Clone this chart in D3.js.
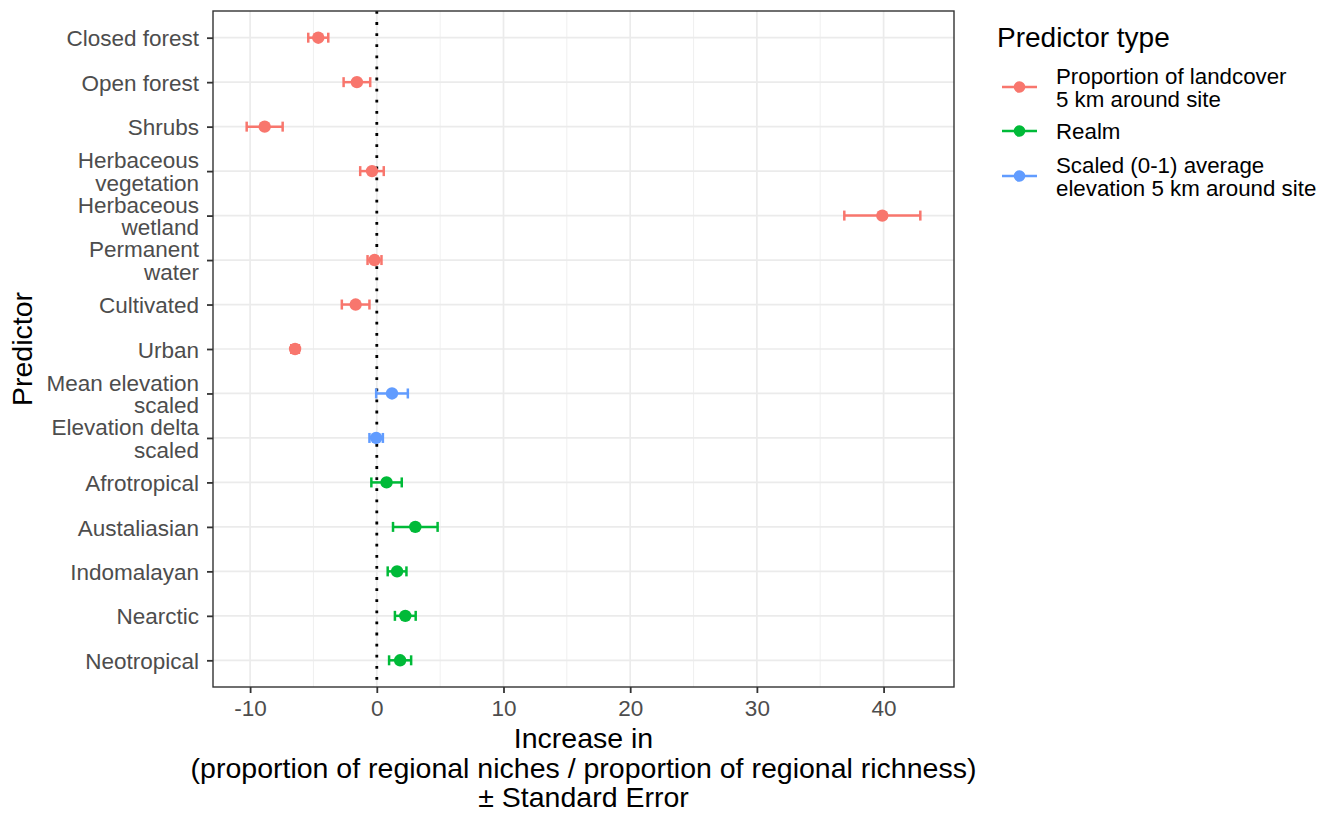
<!DOCTYPE html>
<html>
<head>
<meta charset="utf-8">
<script src="https://cdn.jsdelivr.net/npm/d3@7"></script>
<style>
  html, body { margin: 0; padding: 0; background: #ffffff; }
  svg { display: block; font-family: "Liberation Sans", Arial, Helvetica, sans-serif; }
</style>
</head>
<body>
<svg id="chart" width="1332" height="813"></svg>
<script>
// ---- data ----
const categories = [
  "Closed forest", "Open forest", "Shrubs", "Herbaceous\nvegetation", "Herbaceous\nwetland",
  "Permanent\nwater", "Cultivated", "Urban", "Mean elevation\nscaled", "Elevation delta\nscaled",
  "Afrotropical", "Austaliasian", "Indomalayan", "Nearctic", "Neotropical"
];
const estimates = [-4.62, -1.57, -8.85, -0.38, 39.9, -0.18, -1.67, -6.45, 1.2, -0.05, 0.77, 3.04, 1.6, 2.25, 1.84];
const stdErrors = [0.79, 1.05, 1.42, 0.93, 3.0, 0.55, 1.09, 0.3, 1.25, 0.53, 1.2, 1.76, 0.74, 0.82, 0.87];
const predictorTypes = [
  "land", "land", "land", "land", "land", "land", "land", "land",
  "elev", "elev", "realm", "realm", "realm", "realm", "realm"
];
const legendKeys = ["land", "realm", "elev"];
const legendLabels = [
  "Proportion of landcover\n5 km around site",
  "Realm",
  "Scaled (0-1) average\nelevation 5 km around site"
];
const legendColors = ["#F8766D", "#00BA38", "#619CFF"];
const xTicks = [-10, 0, 10, 20, 30, 40];
const xMinorTicks = [-5, 5, 15, 25, 35];
const xTitleLines = [
  "Increase in",
  "(proportion of regional niches / proportion of regional richness)",
  "\u00B1 Standard Error"
];
const yTitle = "Predictor";
const legendTitle = "Predictor type";

// ---- layout ----
const panel = { left: 213, right: 954, top: 11, bottom: 687 };
const svg = d3.select("#chart");

const rows = categories.map((c, i) => ({
  cat: c, est: estimates[i], se: stdErrors[i], type: predictorTypes[i]
}));

const lo = d3.min(rows, d => d.est - d.se);
const hi = d3.max(rows, d => d.est + d.se);
const pad = 0.05 * (hi - lo);
const x = d3.scaleLinear().domain([lo - pad, hi + pad]).range([panel.left, panel.right]);
const y = d3.scalePoint().domain(categories).range([panel.top, panel.bottom]).padding(0.6);
const color = d3.scaleOrdinal().domain(legendKeys).range(legendColors);

// panel background
svg.append("rect")
  .attr("x", panel.left).attr("y", panel.top)
  .attr("width", panel.right - panel.left).attr("height", panel.bottom - panel.top)
  .attr("fill", "#ffffff");

// grid
const grid = svg.append("g");
grid.selectAll(".minor").data(xMinorTicks).join("line")
  .attr("x1", d => x(d)).attr("x2", d => x(d))
  .attr("y1", panel.top).attr("y2", panel.bottom)
  .attr("stroke", "#EBEBEB").attr("stroke-width", 0.8);
grid.selectAll(".majorx").data(xTicks).join("line")
  .attr("x1", d => x(d)).attr("x2", d => x(d))
  .attr("y1", panel.top).attr("y2", panel.bottom)
  .attr("stroke", "#EBEBEB").attr("stroke-width", 1.7);
grid.selectAll(".majory").data(categories).join("line")
  .attr("x1", panel.left).attr("x2", panel.right)
  .attr("y1", d => y(d)).attr("y2", d => y(d))
  .attr("stroke", "#EBEBEB").attr("stroke-width", 1.7);

// zero reference line (dotted)
svg.append("line")
  .attr("x1", x(0)).attr("x2", x(0))
  .attr("y1", panel.top).attr("y2", panel.bottom)
  .attr("stroke", "#000").attr("stroke-width", 2.8)
  .attr("stroke-dasharray", "2.8 8.3");

// error bars
const capH = 5;
const marks = svg.append("g");
rows.forEach(d => {
  const g = marks.append("g").attr("stroke", color(d.type)).attr("stroke-width", 2.5);
  const yy = y(d.cat);
  g.append("line").attr("x1", x(d.est - d.se)).attr("x2", x(d.est + d.se)).attr("y1", yy).attr("y2", yy);
  g.append("line").attr("x1", x(d.est - d.se)).attr("x2", x(d.est - d.se)).attr("y1", yy - capH).attr("y2", yy + capH);
  g.append("line").attr("x1", x(d.est + d.se)).attr("x2", x(d.est + d.se)).attr("y1", yy - capH).attr("y2", yy + capH);
});
marks.selectAll("circle").data(rows).join("circle")
  .attr("cx", d => x(d.est)).attr("cy", d => y(d.cat)).attr("r", 6.2)
  .attr("fill", d => color(d.type));

// panel border
svg.append("rect")
  .attr("x", panel.left).attr("y", panel.top)
  .attr("width", panel.right - panel.left).attr("height", panel.bottom - panel.top)
  .attr("fill", "none").attr("stroke", "#333333").attr("stroke-width", 1.4);

// x axis
const xAxis = d3.axisBottom(x).tickValues(xTicks).tickSize(6).tickPadding(4).tickFormat(d3.format("d"));
const gx = svg.append("g").attr("transform", `translate(0,${panel.bottom})`).call(xAxis);
gx.select(".domain").remove();
gx.selectAll(".tick line").attr("stroke", "#333333").attr("stroke-width", 1.8);
gx.selectAll(".tick text").attr("fill", "#4D4D4D").attr("font-size", 22.5)
  .attr("font-family", "Liberation Sans, Arial, sans-serif").attr("dy", "0.85em")
  .text(d => d < 0 ? "-" + Math.abs(d) : d);

// y axis
const yAxis = d3.axisLeft(y).tickSize(6).tickPadding(6);
const gy = svg.append("g").attr("transform", `translate(${panel.left},0)`).call(yAxis);
gy.select(".domain").remove();
gy.selectAll(".tick line").attr("stroke", "#333333").attr("stroke-width", 1.8);
gy.selectAll(".tick text").each(function(d) {
  const t = d3.select(this);
  const lines = d.split("\n");
  t.text(null).attr("fill", "#4D4D4D").attr("font-size", 22.5)
    .attr("font-family", "Liberation Sans, Arial, sans-serif").attr("dy", null).attr("x", -14);
  const lh = 22.5;
  const y0 = -(lines.length - 1) * lh / 2;
  lines.forEach((ln, i) => {
    t.append("tspan").attr("x", -14).attr("y", y0 + i * lh).attr("dy", "0.36em").text(ln);
  });
});

// axis titles
const xt = svg.append("text").attr("text-anchor", "middle").attr("font-size", 28.5).attr("fill", "#000");
xTitleLines.forEach((ln, i) => {
  xt.append("tspan").attr("x", (panel.left + panel.right) / 2).attr("y", 748 + i * 29.5).text(ln);
});
svg.append("text").attr("text-anchor", "middle").attr("font-size", 28.5).attr("fill", "#000")
  .attr("transform", `translate(32,${(panel.top + panel.bottom) / 2}) rotate(-90)`)
  .text(yTitle);

// legend
const lg = svg.append("g");
lg.append("text").attr("x", 997).attr("y", 47).attr("font-size", 28).attr("fill", "#000").text(legendTitle);
const legendY = [87, 131, 176];
legendKeys.forEach((k, i) => {
  const yy = legendY[i];
  lg.append("line").attr("x1", 1002).attr("x2", 1037).attr("y1", yy).attr("y2", yy)
    .attr("stroke", color(k)).attr("stroke-width", 2.5);
  lg.append("circle").attr("cx", 1019.5).attr("cy", yy).attr("r", 5.8).attr("fill", color(k));
  const lines = legendLabels[i].split("\n");
  const t = lg.append("text").attr("font-size", 22.3).attr("fill", "#000");
  const lh = 23;
  const y0 = yy - (lines.length - 1) * lh / 2;
  lines.forEach((ln, j) => {
    t.append("tspan").attr("x", 1056).attr("y", y0 + j * lh).attr("dy", "0.36em").text(ln);
  });
});
</script>
</body>
</html>
